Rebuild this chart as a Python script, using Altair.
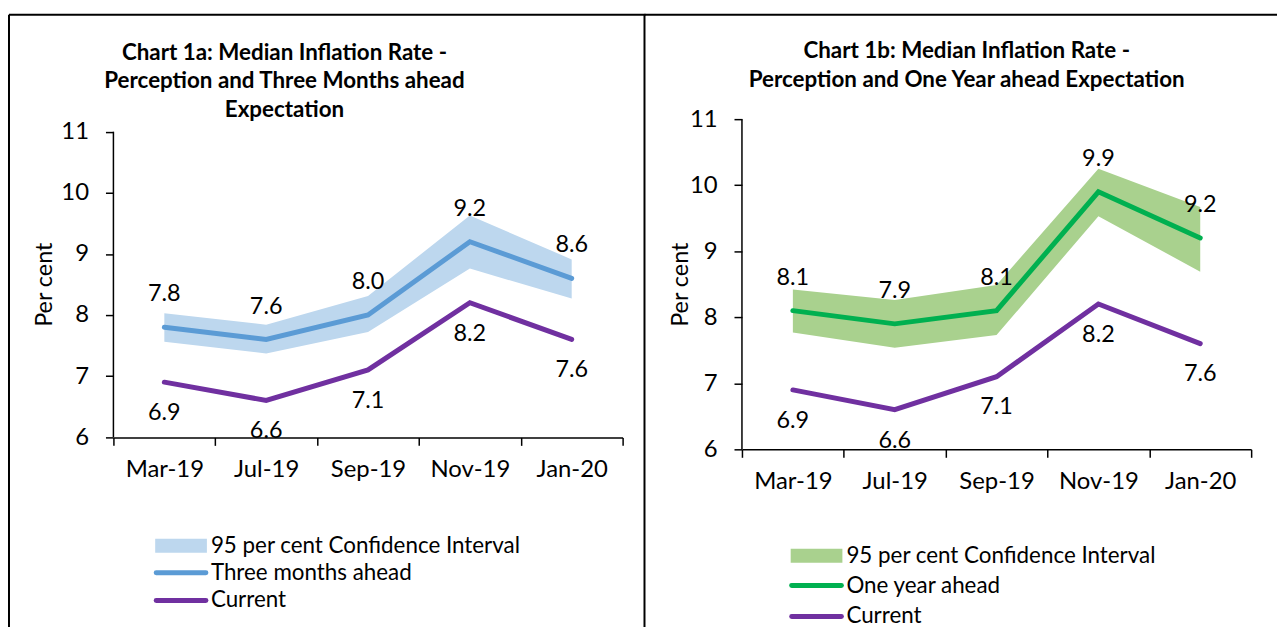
import altair as alt
import pandas as pd

# ---------------- data ----------------
categories = ["Mar-19", "Jul-19", "Sep-19", "Nov-19", "Jan-20"]
current = [6.9, 6.6, 7.1, 8.2, 7.6]
three_months = [7.8, 7.6, 8.0, 9.2, 8.6]
three_months_lo = [7.56, 7.37, 7.72, 8.76, 8.27]
three_months_hi = [8.03, 7.84, 8.31, 9.63, 8.91]
one_year = [8.1, 7.9, 8.1, 9.9, 9.2]
one_year_lo = [7.77, 7.54, 7.73, 9.53, 8.69]
one_year_hi = [8.42, 8.26, 8.49, 10.25, 9.67]

y_ticks = [6, 7, 8, 9, 10, 11]
y_title = "Per cent"
title_1a = ["Chart 1a: Median Inflation Rate -",
            "Perception and Three Months ahead",
            "Expectation"]
title_1b = ["Chart 1b: Median Inflation Rate -",
            "Perception and One Year ahead Expectation"]
legend_1a = ["95 per cent Confidence Interval", "Three months ahead", "Current"]
legend_1b = ["95 per cent Confidence Interval", "One year ahead", "Current"]

# ---------------- style ----------------
FONT = "Lato"
W, H = 512, 332
PURPLE = "#7030A0"
BLUE, LIGHT_BLUE = "#5B9BD5", "#BDD7EE"
GREEN, LIGHT_GREEN = "#00B050", "#A9D18E"


def panel(exp, lo, hi, ci_color, exp_color, titles, title_x, title_ys,
          legend, leg, ydomain, x_offset, ytitle_x, border):
    df = pd.DataFrame({"cat": categories, "cur": current, "exp": exp,
                       "lo": lo, "hi": hi})
    one = pd.DataFrame({"y0": [min(y_ticks)], "y1": [max(y_ticks)]})

    xaxis = alt.Axis(title=None, labelAngle=0, tickBand="extent",
                     offset=x_offset, domainColor="black", domainWidth=1.5,
                     tickColor="black", tickWidth=1.5, tickSize=8,
                     labelFont=FONT, labelFontSize=24, labelColor="black",
                     labelPadding=12)
    x = alt.X("cat:N", sort=categories,
              scale=alt.Scale(type="band", paddingInner=0, paddingOuter=0),
              axis=xaxis)
    yaxis = alt.Axis(title=y_title, values=y_ticks, domain=False, grid=False,
                     tickColor="black", tickWidth=1.5, tickSize=8,
                     labelFont=FONT, labelFontSize=24, labelColor="black",
                     labelPadding=17, titleFont=FONT, titleFontSize=23.5,
                     titleFontWeight="normal", titleColor="black",
                     titleX=ytitle_x, titleY=H / 2, titleBaseline="middle")
    yscale = alt.Scale(domain=ydomain, nice=False, zero=False)

    def Y(f):
        return alt.Y(f"{f}:Q", scale=yscale, axis=yaxis)

    base = alt.Chart(df)
    layers = [
        base.mark_area(color=ci_color, opacity=1).encode(
            x=x, y=Y("hi"), y2="lo:Q"),
        base.mark_line(color=exp_color, strokeWidth=5, strokeCap="round").encode(
            x=x, y=Y("exp")),
        base.mark_line(color=PURPLE, strokeWidth=5, strokeCap="round").encode(
            x=x, y=Y("cur")),
        base.mark_text(dy=-33, font=FONT, fontSize=23.5, color="black").encode(
            x=x, y=Y("exp"), text=alt.Text("exp:Q", format=".1f")),
        base.mark_text(dy=31, font=FONT, fontSize=23.5, color="black").encode(
            x=x, y=Y("cur"), text=alt.Text("cur:Q", format=".1f")),
        alt.Chart(one).mark_rule(color="black", strokeWidth=1.5).encode(
            x=alt.value(0), y=Y("y0"), y2="y1:Q"),
    ]

    deco = alt.Chart(pd.DataFrame({"k": [0]}))
    # panel frame
    for (x0, x1, y0, y1) in border:
        layers.append(deco.mark_rule(color="black", strokeWidth=2).encode(
            x=alt.value(x0), x2=alt.value(x1), y=alt.value(y0), y2=alt.value(y1)))
    # title
    for t, ty in zip(titles, title_ys):
        layers.append(deco.mark_text(font=FONT, fontSize=22.5, fontWeight="bold",
                                     align="center", baseline="middle",
                                     color="black").encode(
            x=alt.value(title_x), y=alt.value(ty), text=alt.value(t)))
    # legend
    lx0, lx1, ry0, ry1, ly1, ly2, tx = leg
    layers.append(deco.mark_rect(color=ci_color).encode(
        x=alt.value(lx0), x2=alt.value(lx1), y=alt.value(ry0), y2=alt.value(ry1)))
    for col, ly in ((exp_color, ly1), (PURPLE, ly2)):
        layers.append(deco.mark_rule(color=col, strokeWidth=5, strokeCap="round").encode(
            x=alt.value(lx0 + 1), x2=alt.value(lx1 - 1), y=alt.value(ly)))
    for t, ty in zip(legend, [(ry0 + ry1) / 2, ly1, ly2]):
        layers.append(deco.mark_text(font=FONT, fontSize=22.5, align="left",
                                     baseline="middle", color="black").encode(
            x=alt.value(tx), y=alt.value(ty), text=alt.value(t)))

    return alt.layer(*layers).properties(width=W, height=H)


p1 = panel(three_months, three_months_lo, three_months_hi, LIGHT_BLUE, BLUE,
           title_1a, 172, [-66, -38, -9], legend_1a,
           (42, 94, 422, 436, 456, 484, 98),
           [5.80, 11.207], -12, -69,
           [(-105, 535, -105, -105), (-105, -105, -105, 530), (534, 534, -105, 530)])
p2 = panel(one_year, one_year_lo, one_year_hi, LIGHT_GREEN, GREEN,
           title_1b, 226, [-68, -39], legend_1b,
           (49, 101, 432, 446, 469, 500, 105),
           [6, 11], 0, -62,
           [(-98, 538, -105, -105)])

chart = alt.hconcat(p1, p2, spacing=120, bounds="flush").properties(
    padding={"left": 0, "top": 4, "right": 0, "bottom": 0}
).configure(font=FONT).configure_view(stroke=None)

chart.save("out.html", embed_options={"renderer": "svg", "actions": False})
